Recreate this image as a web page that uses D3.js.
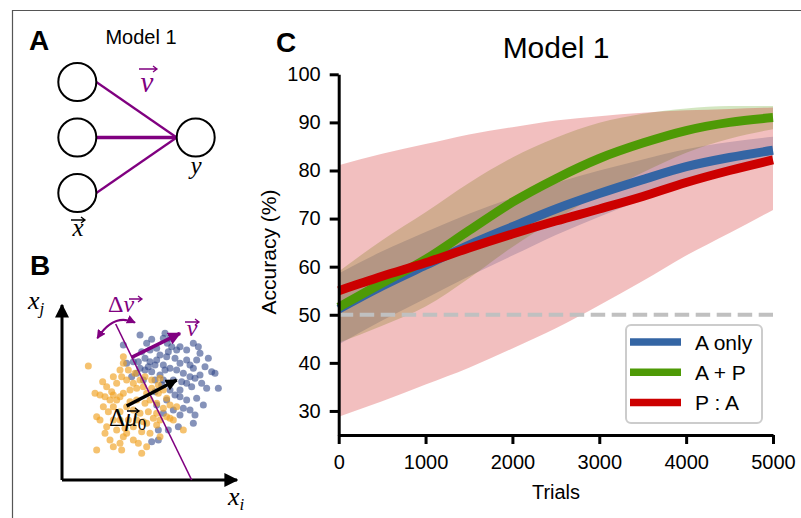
<!DOCTYPE html>
<html>
<head>
<meta charset="utf-8">
<script src="https://cdn.jsdelivr.net/npm/d3@7"></script>
<style>
	body { margin: 0; background: #fff; }
	text { font-family: "Liberation Sans", Arial, Helvetica, sans-serif; }
	.math { font-family: "Liberation Serif", "DejaVu Serif", serif; font-style: italic; }
	.up { font-family: "Liberation Serif", "DejaVu Serif", serif; }
</style>
</head>
<body>
<svg id="fig"></svg>
<script>
// ---- data for panel C ----
var trials = [0, 500, 1000, 1500, 2000, 2500, 3000, 3500, 4000, 4500, 5000]

var aOnlyMean = [51.2, 56.0, 60.3, 64.5, 68.3, 72.0, 75.2, 78.1, 80.8, 82.7, 84.2]
var aOnlyLo   = [43.8, 48.8, 53.4, 58.0, 62.3, 66.6, 70.4, 73.9, 77.2, 79.5, 81.4]
var aOnlyHi   = [58.6, 63.2, 67.2, 71.0, 74.3, 77.4, 80.0, 82.3, 84.4, 85.9, 87.0]

var apMean = [51.6, 56.6, 61.5, 67.5, 73.4, 78.3, 82.5, 85.7, 88.3, 90.0, 91.0]
var apLo   = [44.2, 47.7, 51.7, 57.6, 64.1, 69.8, 75.1, 79.6, 83.7, 86.6, 88.6]
var apHi   = [59.0, 65.5, 71.3, 77.4, 82.7, 86.8, 89.9, 91.8, 92.9, 93.4, 93.4]

var paMean = [55.0, 58.0, 60.8, 63.9, 66.8, 69.5, 72.0, 74.6, 77.5, 80.0, 82.2]
var paLo   = [28.8, 32.0, 35.5, 39.0, 43.0, 47.2, 52.0, 57.0, 62.3, 67.0, 71.8]
var paHi   = [81.1, 83.5, 85.5, 87.5, 89.0, 90.4, 91.3, 92.0, 92.5, 92.8, 93.1]

var seriesNames = ['A only', 'A + P', 'P : A']
var seriesColors = ['#3465a4', '#4e9a06', '#cc0000']

var xTicks = [0, 1000, 2000, 3000, 4000, 5000]
var yTicks = [30, 40, 50, 60, 70, 80, 90, 100]
var chance = 50

// ---- data for panel A (diagram units) ----
var inputNodes = [[0, 0], [0, 1], [0, 2]]
var outputNode = [1, 1]

// ---- data for panel B (arbitrary units, origin at the axes corner) ----
var classBlue = [[234,435],[269,422],[304,425],[316,410],[329,400],[354,400],[374,390],[409,400],[404,360],[439,365],
	[449,325],[459,320],[469,275],[434,275],[404,245],[424,225],[399,195],[394,170],[354,195],[349,160],
	[319,150],[289,150],[269,115],[289,120],[194,350],[184,405],[214,355],[229,355],[249,365],[259,340],
	[284,360],[294,375],[314,370],[339,365],[354,350],[374,360],[384,345],[394,335],[364,320],[344,330],
	[324,335],[309,330],[294,315],[269,325],[249,330],[234,335],[224,320],[209,310],[244,300],[279,300],
	[304,300],[334,300],[359,295],[374,290],[389,280],[354,270],[324,270],[299,285],[279,265],[354,250],
	[374,240],[339,255],[314,240],[284,225],[304,200],[334,210],[364,215],[384,210],[344,390],[319,385],
	[284,395],[264,390],[254,410],[414,380],[429,340],[414,315],[399,305],[384,310],[419,290],[304,345],
	[279,345],[264,355],[239,385],[394,410],[309,440],[324,425]]
var classOrange = [[79,342],[122,295],[99,260],[114,255],[149,265],[164,290],[179,310],[184,350],[199,330],[174,330],
	[154,310],[134,280],[144,240],[124,220],[104,190],[139,205],[154,220],[164,240],[184,260],[204,270],
	[224,275],[214,290],[234,300],[244,280],[254,260],[264,240],[284,230],[304,215],[314,190],[284,200],
	[259,205],[234,200],[214,210],[194,220],[174,205],[154,180],[134,160],[164,150],[189,155],[214,160],
	[239,145],[254,170],[284,165],[294,180],[324,185],[144,120],[174,110],[184,130],[214,120],[229,110],
	[254,100],[239,80],[179,90],[154,100],[104,90],[129,140],[114,180],[199,180],[224,240],[249,230],
	[269,275],[289,260],[314,245],[324,225],[344,220],[364,150],[334,180],[204,235],[174,250],[154,255],
	[194,300],[219,320],[249,310],[269,300],[289,285],[304,270],[129,250],[174,180],[194,140],[264,140],
	[294,130],[224,180],[244,175],[274,185],[184,370],[294,305]]
var boundary = [[161, 468], [389, 0]]
var vArrow = [[209, 368], [354, 440]]
var muArrow = [[194, 222], [344, 300]]
var rotArc = [[106, 425], [155, 502], [219, 472]]   // start, control, end
var axisTip = 525

var W = 801, H = 518
var svg = d3.select('#fig').attr('width', W).attr('height', H)
svg.append('rect').attr('width', W).attr('height', H).attr('fill', '#fff')

// frame of the figure (only top and left edges are visible)
svg.append('path').attr('d', 'M12.5,518V10.5H801')
	.attr('fill', 'none').attr('stroke', '#555').attr('stroke-width', 1.2)

var defs = svg.append('defs')
function marker(id, color, size) {
	defs.append('marker').attr('id', id)
		.attr('viewBox', '0 0 10 10').attr('refX', 9).attr('refY', 5)
		.attr('markerUnits', 'userSpaceOnUse')
		.attr('markerWidth', size).attr('markerHeight', size)
		.attr('orient', 'auto-start-reverse')
		.append('path').attr('d', 'M0,0L10,5L0,10Z').attr('fill', color)
}
marker('arrBlack', '#000', 14)
marker('arrPurple', '#800080', 13)
marker('arrPurpleSmall', '#800080', 9)
marker('arrMu', '#000', 12)

// little arrow drawn over a vector symbol (\vec)
function vecMark(g, x0, x1, yy, color) {
	g.append('path')
		.attr('d', 'M' + x0 + ',' + yy + 'H' + x1 + 'M' + (x1 - 4) + ',' + (yy - 3) + 'L' + x1 + ',' + yy + 'L' + (x1 - 4) + ',' + (yy + 3))
		.attr('fill', 'none').attr('stroke', color).attr('stroke-width', 1.3)
}

// ================= panel A =================
var gA = svg.append('g')
gA.append('text').attr('x', 29).attr('y', 50).attr('font-size', 28).attr('font-weight', 'bold').text('A')
gA.append('text').attr('x', 141).attr('y', 44).attr('font-size', 20).attr('text-anchor', 'middle').text('Model 1')

var ax = d3.scaleLinear().domain([0, 1]).range([77.3, 195.7])
var ay = d3.scaleLinear().domain([0, 2]).range([82, 193])
var nodeR = 19

inputNodes.forEach(function(d, i) {
	var x1 = ax(d[0]) + nodeR, y1 = ay(d[1])
	var x2 = ax(outputNode[0]) - nodeR, y2 = ay(outputNode[1])
	gA.append('line').attr('x1', x1).attr('y1', y1).attr('x2', x2).attr('y2', y2)
		.attr('stroke', '#800080').attr('stroke-width', i === 1 ? 3.4 : 2.2)
})
gA.selectAll('circle.in').data(inputNodes).enter().append('circle')
	.attr('cx', function(d) { return ax(d[0]) })
	.attr('cy', function(d) { return ay(d[1]) })
	.attr('r', nodeR).attr('fill', '#fff').attr('stroke', '#000').attr('stroke-width', 2)
gA.append('circle').attr('cx', ax(outputNode[0])).attr('cy', ay(outputNode[1]))
	.attr('r', nodeR).attr('fill', '#fff').attr('stroke', '#000').attr('stroke-width', 2)

gA.append('text').attr('class', 'math').attr('x', 147).attr('y', 92).attr('font-size', 29)
	.attr('text-anchor', 'middle').attr('fill', '#800080').text('v')
vecMark(gA, 139, 157, 69, '#800080')
gA.append('text').attr('class', 'math').attr('x', 196).attr('y', 174).attr('font-size', 25)
	.attr('text-anchor', 'middle').text('y')
gA.append('text').attr('class', 'math').attr('x', 78).attr('y', 236).attr('font-size', 25)
	.attr('text-anchor', 'middle').text('x')
vecMark(gA, 71, 85, 220, '#000')

// ================= panel B =================
var gB = svg.append('g')
gB.append('text').attr('x', 30).attr('y', 275).attr('font-size', 28).attr('font-weight', 'bold').text('B')

var bx = d3.scaleLinear().domain([0, 525]).range([62, 237])
var by = d3.scaleLinear().domain([0, 525]).range([480, 305])

gB.selectAll('circle.blue').data(classBlue).enter().append('circle')
	.attr('cx', function(d) { return bx(d[0]) }).attr('cy', function(d) { return by(d[1]) })
	.attr('r', 3.5).attr('fill', '#34498a').attr('fill-opacity', 0.6)
gB.selectAll('circle.orange').data(classOrange).enter().append('circle')
	.attr('cx', function(d) { return bx(d[0]) }).attr('cy', function(d) { return by(d[1]) })
	.attr('r', 3.5).attr('fill', '#f0a325').attr('fill-opacity', 0.66)

// axes with arrow heads
gB.append('line').attr('x1', bx(0)).attr('y1', by(0)).attr('x2', bx(0)).attr('y2', by(axisTip))
	.attr('stroke', '#000').attr('stroke-width', 3).attr('marker-end', 'url(#arrBlack)')
gB.append('line').attr('x1', bx(0)).attr('y1', by(0)).attr('x2', bx(axisTip)).attr('y2', by(0))
	.attr('stroke', '#000').attr('stroke-width', 3).attr('marker-end', 'url(#arrBlack)')

// decision boundary
gB.append('line').attr('x1', bx(boundary[0][0])).attr('y1', by(boundary[0][1]))
	.attr('x2', bx(boundary[1][0])).attr('y2', by(boundary[1][1]))
	.attr('stroke', '#800080').attr('stroke-width', 1.6)

// rotation arc
var arc = d3.path()
arc.moveTo(bx(rotArc[0][0]), by(rotArc[0][1]))
arc.quadraticCurveTo(bx(rotArc[1][0]), by(rotArc[1][1]), bx(rotArc[2][0]), by(rotArc[2][1]))
gB.append('path').attr('d', arc.toString()).attr('fill', 'none')
	.attr('stroke', '#800080').attr('stroke-width', 2)
	.attr('marker-start', 'url(#arrPurpleSmall)').attr('marker-end', 'url(#arrPurpleSmall)')

gB.append('line').attr('x1', bx(vArrow[0][0])).attr('y1', by(vArrow[0][1]))
	.attr('x2', bx(vArrow[1][0])).attr('y2', by(vArrow[1][1]))
	.attr('stroke', '#800080').attr('stroke-width', 3.5).attr('marker-end', 'url(#arrPurple)')
gB.append('line').attr('x1', bx(muArrow[0][0])).attr('y1', by(muArrow[0][1]))
	.attr('x2', bx(muArrow[1][0])).attr('y2', by(muArrow[1][1]))
	.attr('stroke', '#000').attr('stroke-width', 3.5).attr('marker-end', 'url(#arrMu)')

var lbl = gB.append('text').attr('class', 'math').attr('x', 28).attr('y', 309).attr('font-size', 26)
lbl.append('tspan').text('x')
lbl.append('tspan').attr('font-size', 17).attr('dy', 5).text('j')
lbl = gB.append('text').attr('class', 'math').attr('x', 228).attr('y', 505).attr('font-size', 26)
lbl.append('tspan').text('x')
lbl.append('tspan').attr('font-size', 17).attr('dy', 5).text('i')

// Δv label
lbl = gB.append('text').attr('x', 108).attr('y', 312).attr('font-size', 24).attr('fill', '#800080')
lbl.append('tspan').attr('class', 'up').text('\u0394')
lbl.append('tspan').attr('class', 'math').text('v')
vecMark(gB, 129, 142, 299, '#800080')
// v label
gB.append('text').attr('class', 'math').attr('x', 192).attr('y', 336).attr('font-size', 24)
	.attr('text-anchor', 'middle').attr('fill', '#800080').text('v')
vecMark(gB, 185, 199, 322, '#800080')
// Δμ0 label
lbl = gB.append('text').attr('x', 109).attr('y', 426).attr('font-size', 25)
lbl.append('tspan').attr('class', 'up').text('\u0394')
lbl.append('tspan').attr('class', 'math').text('\u03BC')
lbl.append('tspan').attr('class', 'up').attr('font-size', 17).attr('dy', 4).text('0')
vecMark(gB, 127, 139, 411, '#000')

// ================= panel C =================
var gC = svg.append('g')
gC.append('text').attr('x', 276).attr('y', 52).attr('font-size', 28).attr('font-weight', 'bold').text('C')

var x = d3.scaleLinear().domain([0, 5000]).range([338.7, 773])
var y = d3.scaleLinear().domain([25, 100]).range([435, 74.3])

var series = [
	{ mean: aOnlyMean, lo: aOnlyLo, hi: aOnlyHi },
	{ mean: apMean, lo: apLo, hi: apHi },
	{ mean: paMean, lo: paLo, hi: paHi }
]

var area = d3.area()
	.x(function(d) { return x(d.t) })
	.y0(function(d) { return y(d.lo) })
	.y1(function(d) { return y(d.hi) })
	.curve(d3.curveMonotoneX)
var line = d3.line()
	.x(function(d) { return x(d.t) })
	.y(function(d) { return y(d.m) })
	.curve(d3.curveMonotoneX)

function rows(s) {
	return trials.map(function(t, i) { return { t: t, m: s.mean[i], lo: s.lo[i], hi: s.hi[i] } })
}

series.forEach(function(s, i) {
	gC.append('path').attr('d', area(rows(s)))
		.attr('fill', seriesColors[i]).attr('fill-opacity', 0.25)
})

gC.append('line').attr('x1', x(0)).attr('x2', x(5000)).attr('y1', y(chance)).attr('y2', y(chance))
	.attr('stroke', '#c0c0c0').attr('stroke-width', 4).attr('stroke-dasharray', '14.5,6.5')

series.forEach(function(s, i) {
	gC.append('path').attr('d', line(rows(s)))
		.attr('fill', 'none').attr('stroke', seriesColors[i]).attr('stroke-width', 9)
})

var xAxis = gC.append('g').attr('transform', 'translate(0,435)')
	.call(d3.axisBottom(x).tickValues(xTicks).tickFormat(d3.format('d')).tickSize(9).tickSizeOuter(0).tickPadding(11))
var yAxis = gC.append('g').attr('transform', 'translate(338.7,0)')
	.call(d3.axisLeft(y).tickValues(yTicks).tickSize(9).tickSizeOuter(0).tickPadding(9))
;[xAxis, yAxis].forEach(function(a) {
	a.select('.domain').attr('stroke', '#000').attr('stroke-width', 3)
	a.selectAll('.tick line').attr('stroke', '#000').attr('stroke-width', 3)
	a.selectAll('.tick text').attr('font-size', 20).attr('fill', '#000')
		.attr('font-family', '"Liberation Sans", Arial, sans-serif')
})

gC.append('text').attr('x', 556).attr('y', 58).attr('font-size', 30).attr('text-anchor', 'middle').text('Model 1')
gC.append('text').attr('x', 556).attr('y', 499).attr('font-size', 20).attr('text-anchor', 'middle').text('Trials')
gC.append('text').attr('transform', 'translate(276,252) rotate(-90)')
	.attr('font-size', 21).attr('text-anchor', 'middle').text('Accuracy (%)')

// legend
var lg = gC.append('g')
lg.append('rect').attr('x', 626).attr('y', 325).attr('width', 136).attr('height', 98).attr('rx', 5)
	.attr('fill', '#fff').attr('fill-opacity', 0.85).attr('stroke', '#cccccc').attr('stroke-width', 2)
seriesNames.forEach(function(name, i) {
	var yy = 342 + i * 30.3
	lg.append('line').attr('x1', 630).attr('x2', 681).attr('y1', yy).attr('y2', yy)
		.attr('stroke', seriesColors[i]).attr('stroke-width', 7.5)
	lg.append('text').attr('x', 695).attr('y', yy).attr('dy', '0.36em').attr('font-size', 21).text(name)
})
</script>
</body>
</html>
